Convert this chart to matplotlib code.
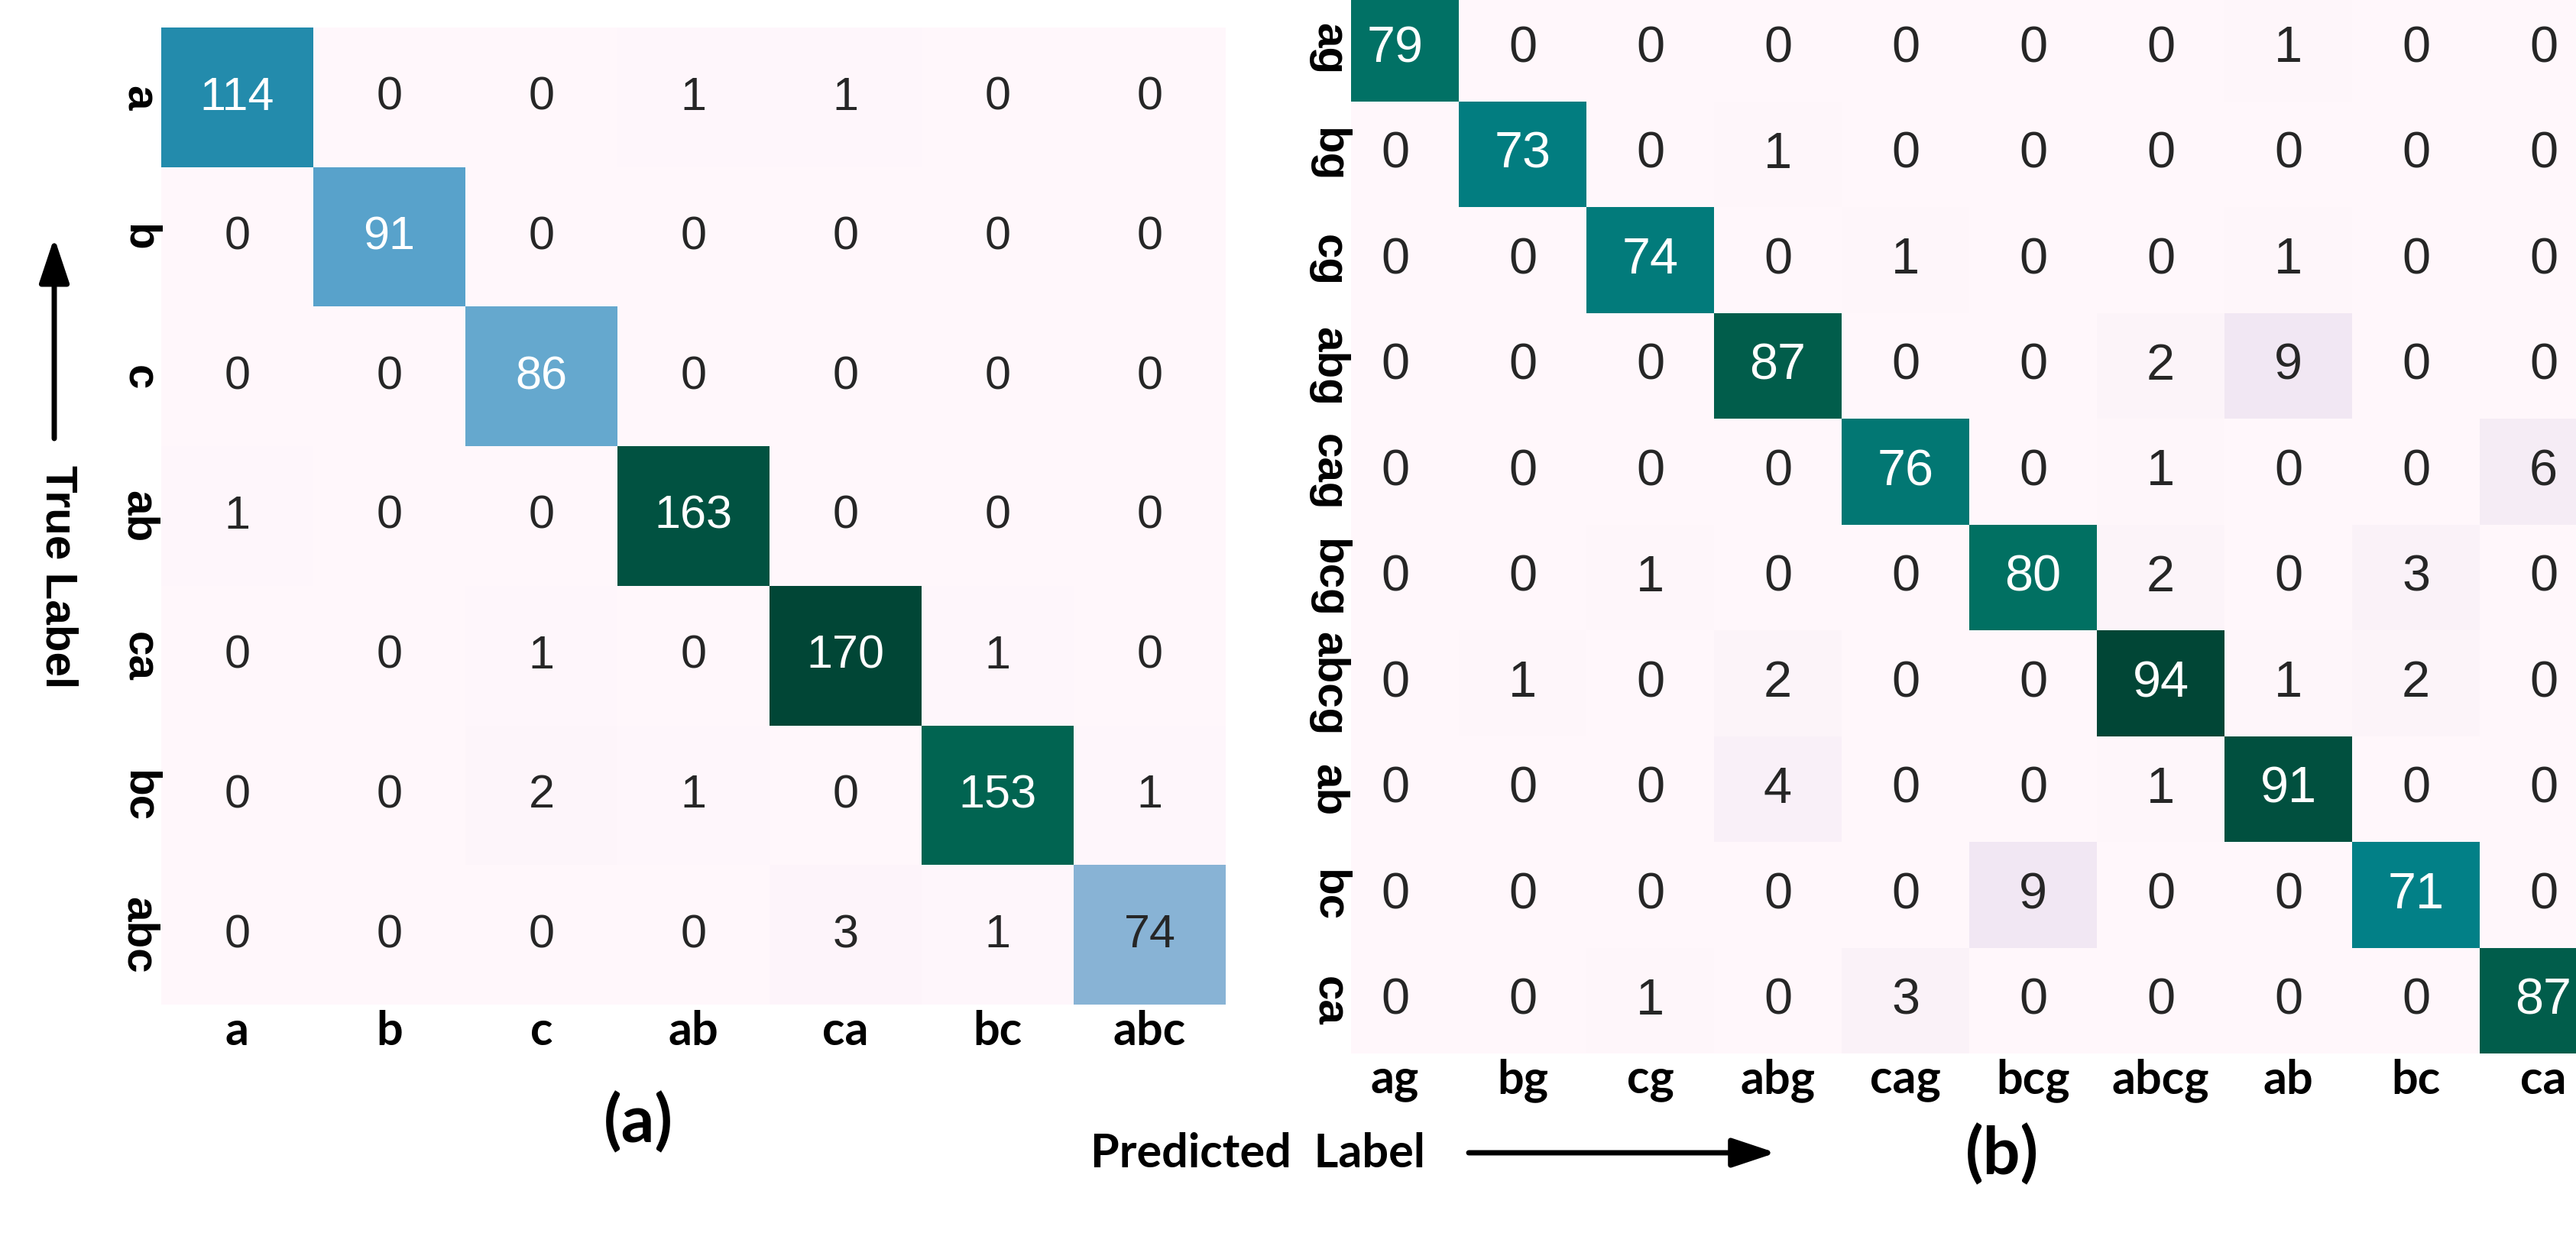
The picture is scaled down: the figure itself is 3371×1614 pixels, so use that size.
#!/usr/bin/env python3

import matplotlib
matplotlib.use("Agg")

import matplotlib.pyplot as plt
import numpy as np
import seaborn as sns
from matplotlib.patches import FancyArrowPatch


# (a) three-class confusion matrix
LEFT_LABELS = ["a", "b", "c", "ab", "ca", "bc", "abc"]
LEFT_MATRIX = [
    [114, 0, 0, 1, 1, 0, 0],
    [0, 91, 0, 0, 0, 0, 0],
    [0, 0, 86, 0, 0, 0, 0],
    [1, 0, 0, 163, 0, 0, 0],
    [0, 0, 1, 0, 170, 1, 0],
    [0, 0, 2, 1, 0, 153, 1],
    [0, 0, 0, 0, 3, 1, 74],
]

# (b) ten-class confusion matrix
RIGHT_LABELS = ["ag", "bg", "cg", "abg", "cag", "bcg", "abcg", "ab", "bc", "ca"]
RIGHT_MATRIX = [
    [79, 0, 0, 0, 0, 0, 0, 1, 0, 0],
    [0, 73, 0, 1, 0, 0, 0, 0, 0, 0],
    [0, 0, 74, 0, 1, 0, 0, 1, 0, 0],
    [0, 0, 0, 87, 0, 0, 2, 9, 0, 0],
    [0, 0, 0, 0, 76, 0, 1, 0, 0, 6],
    [0, 0, 1, 0, 0, 80, 2, 0, 3, 0],
    [0, 1, 0, 2, 0, 0, 94, 1, 2, 0],
    [0, 0, 0, 4, 0, 0, 1, 91, 0, 0],
    [0, 0, 0, 0, 0, 9, 0, 0, 71, 0],
    [0, 0, 1, 0, 3, 0, 0, 0, 0, 87],
]

FIG_W, FIG_H = 3371, 1615
DPI = 100


def fx(x):
    """Pixel column to figure fraction."""
    return x / FIG_W


def fy(y):
    """Pixel row (from top) to figure fraction."""
    return 1 - y / FIG_H


def box(x0, y0, x1, y1):
    """Axes rectangle from pixel corners."""
    return [fx(x0), fy(y1), (x1 - x0) / FIG_W, (y1 - y0) / FIG_H]


def draw_matrix(ax, matrix, labels, annot_size):
    """Draw one confusion matrix as an annotated heatmap."""
    sns.heatmap(
        np.array(matrix),
        ax=ax,
        cmap="PuBuGn",
        annot=True,
        fmt="d",
        cbar=False,
        annot_kws={"fontsize": annot_size, "family": "Liberation Sans"},
    )
    ticks = np.arange(len(labels)) + 0.5
    ax.set_xticks(ticks)
    ax.set_yticks(ticks)
    ax.set_xticklabels(labels, rotation=0, fontsize=44,
                       fontweight="bold", family="Lato")
    ax.set_yticklabels(labels, rotation=270, va="center", fontsize=42,
                       fontweight="bold", family="Liberation Sans")
    ax.tick_params(axis="x", length=0, pad=4)
    ax.tick_params(axis="y", length=0, pad=2)
    ax.set_xlabel("")
    ax.set_ylabel("")


def add_arrow(fig, start, end, scale):
    """Black arrow between two pixel points."""
    fig.add_artist(FancyArrowPatch(
        (fx(start[0]), fy(start[1])),
        (fx(end[0]), fy(end[1])),
        transform=fig.transFigure,
        arrowstyle="-|>,head_length=0.6,head_width=0.2",
        mutation_scale=scale,
        lw=5,
        color="black",
        shrinkA=0,
        shrinkB=0,
    ))


def main() -> None:
    fig = plt.figure(figsize=(FIG_W / DPI, FIG_H / DPI), dpi=DPI)

    ax_a = fig.add_axes(box(211, 37, 1604, 1316))
    draw_matrix(ax_a, LEFT_MATRIX, LEFT_LABELS, 44)

    # the right panel is cropped a little on the left, top and right
    ax_b = fig.add_axes(box(1768, -5, 3412, 1380))
    draw_matrix(ax_b, RIGHT_MATRIX, RIGHT_LABELS, 48)
    ax_b.set_xlim(0.156, 10)

    fig.text(fx(75), fy(755), "True Label", rotation=270,
             ha="center", va="center", fontsize=42,
             fontweight="bold", family="Liberation Sans")
    add_arrow(fig, (71, 575), (71, 312), 60)

    fig.text(fx(1427), fy(1510), "Predicted  Label",
             ha="left", va="center", fontsize=44,
             fontweight="bold", family="Lato")
    add_arrow(fig, (1922, 1510), (2324, 1510), 58)

    fig.text(fx(835), fy(1470), "(a)", ha="center", va="center",
             fontsize=62, fontweight="bold", family="Lato")
    fig.text(fx(2620), fy(1512), "(b)", ha="center", va="center",
             fontsize=62, fontweight="bold", family="Lato")

    fig.savefig("out.png", dpi=DPI)
    plt.close(fig)


if __name__ == "__main__":
    main()
